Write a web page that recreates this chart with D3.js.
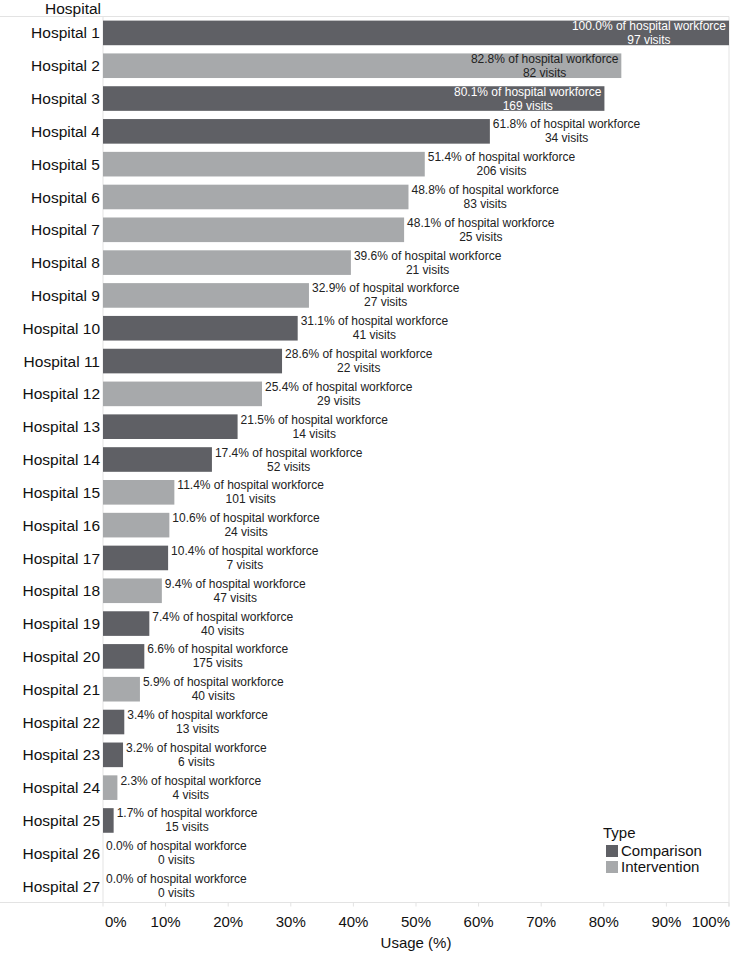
<!DOCTYPE html>
<html>
<head>
<meta charset="utf-8">
<script src="https://cdn.jsdelivr.net/npm/d3@7"></script>
<style>
  body { margin: 0; background: #fff; }
  text { font-family: Arial, "Liberation Sans", Helvetica, sans-serif; }
</style>
</head>
<body>
<svg width="731" height="953"></svg>
<script>
// данные
const hospitals = d3.range(1, 28).map(i => "Hospital " + i);
const usage = [100.0, 82.8, 80.1, 61.8, 51.4, 48.8, 48.1, 39.6, 32.9, 31.1,
               28.6, 25.4, 21.5, 17.4, 11.4, 10.6, 10.4, 9.4, 7.4, 6.6,
               5.9, 3.4, 3.2, 2.3, 1.7, 0.0, 0.0];
const visits = [97, 82, 169, 34, 206, 83, 25, 21, 27, 41,
                22, 29, 14, 52, 101, 24, 7, 47, 40, 175,
                40, 13, 6, 4, 15, 0, 0];
const types = ["C", "I", "C", "C", "I", "I", "I", "I", "I", "C",
               "C", "I", "C", "C", "I", "I", "C", "I", "C", "C",
               "I", "C", "C", "I", "C", "C", "I"];
const typeNames = { C: "Comparison", I: "Intervention" };
const ticks = [0, 10, 20, 30, 40, 50, 60, 70, 80, 90, 100];

const data = hospitals.map((h, i) => ({
    name: h, pct: usage[i], visits: visits[i], type: types[i]
}));

const svg = d3.select("svg");
const plotLeft = 103, plotRight = 729, plotTop = 16.5, plotBottom = 902.5;

const x = d3.scaleLinear().domain([0, 100]).range([plotLeft, plotRight]);
const y = d3.scaleBand().domain(hospitals).range([plotTop, plotBottom]).paddingInner(0.25).paddingOuter(0.125);
const color = d3.scaleOrdinal().domain(["C", "I"]).range(["#5f6065", "#a7a9ab"]);
const lineColor = "#e3e3e3";

// рамка
svg.append("line").attr("x1", 0).attr("x2", plotRight).attr("y1", plotTop).attr("y2", plotTop).attr("stroke", lineColor);
svg.append("line").attr("x1", 0).attr("x2", plotRight).attr("y1", plotBottom).attr("y2", plotBottom).attr("stroke", lineColor);
svg.append("line").attr("x1", plotLeft).attr("x2", plotLeft).attr("y1", plotTop).attr("y2", plotBottom).attr("stroke", lineColor);
svg.append("line").attr("x1", plotRight).attr("x2", plotRight).attr("y1", plotTop).attr("y2", plotBottom + 4).attr("stroke", lineColor);

// заголовок оси Y
svg.append("text").attr("x", 101).attr("y", 14).attr("text-anchor", "end")
    .attr("font-size", 15.5).attr("fill", "#111").text("Hospital");

// подписи больниц
svg.append("g").selectAll("text").data(data).join("text")
    .attr("x", 100)
    .attr("y", d => y(d.name) + y.bandwidth() / 2)
    .attr("dy", "0.36em")
    .attr("text-anchor", "end")
    .attr("font-size", 15.5)
    .attr("fill", "#111")
    .text(d => d.name);

// столбцы
svg.append("g").selectAll("rect").data(data).join("rect")
    .attr("x", x(0))
    .attr("y", d => y(d.name))
    .attr("width", d => x(d.pct) - x(0))
    .attr("height", y.bandwidth())
    .attr("fill", d => color(d.type));

// подписи столбцов
const labels = svg.append("g").selectAll("g").data(data).join("g");
labels.each(function(d) {
    const g = d3.select(this);
    const cy = y(d.name) + y.bandwidth() / 2;
    const t1 = g.append("text").attr("font-size", 12).attr("y", cy - 3)
        .text(d.pct.toFixed(1) + "% of hospital workforce");
    const t2 = g.append("text").attr("font-size", 12).attr("y", cy + 11)
        .text(d.visits + " visits");
    const w = Math.max(t1.node().getComputedTextLength(), t2.node().getComputedTextLength());
    const end = x(d.pct);
    let cx, fill;
    if (end + 3 + w > plotRight) {
        // внутри столбца
        cx = end - 3 - w / 2;
        fill = d.type === "C" ? "#fff" : "#222";
    } else {
        cx = end + 3 + w / 2;
        fill = "#222";
    }
    g.selectAll("text").attr("x", cx).attr("text-anchor", "middle").attr("fill", fill);
});

// ось X
const ax = svg.append("g");
ax.selectAll("line").data(ticks).join("line")
    .attr("x1", d => x(d)).attr("x2", d => x(d))
    .attr("y1", plotBottom).attr("y2", plotBottom + 4)
    .attr("stroke", lineColor);
ax.selectAll("text").data(ticks).join("text")
    .attr("x", d => d === 0 ? x(d) + 2 : d === 100 ? x(d) + 1 : x(d))
    .attr("y", 927)
    .attr("text-anchor", d => d === 0 ? "start" : d === 100 ? "end" : "middle")
    .attr("font-size", 15)
    .attr("fill", "#111")
    .text(d => d + "%");
svg.append("text").attr("x", (plotLeft + plotRight) / 2).attr("y", 948)
    .attr("text-anchor", "middle").attr("font-size", 15).attr("fill", "#111")
    .text("Usage (%)");

// легенда
const legend = svg.append("g").attr("transform", "translate(603,0)");
legend.append("text").attr("x", 0).attr("y", 838).attr("font-size", 15).attr("fill", "#111").text("Type");
legend.selectAll("rect").data(["C", "I"]).join("rect")
    .attr("x", 3).attr("y", (d, i) => 845 + i * 16)
    .attr("width", 12).attr("height", 12)
    .attr("fill", d => color(d));
legend.selectAll("text.item").data(["C", "I"]).join("text")
    .attr("class", "item")
    .attr("x", 18).attr("y", (d, i) => 856 + i * 16)
    .attr("font-size", 15).attr("fill", "#111")
    .text(d => typeNames[d]);
</script>
</body>
</html>
